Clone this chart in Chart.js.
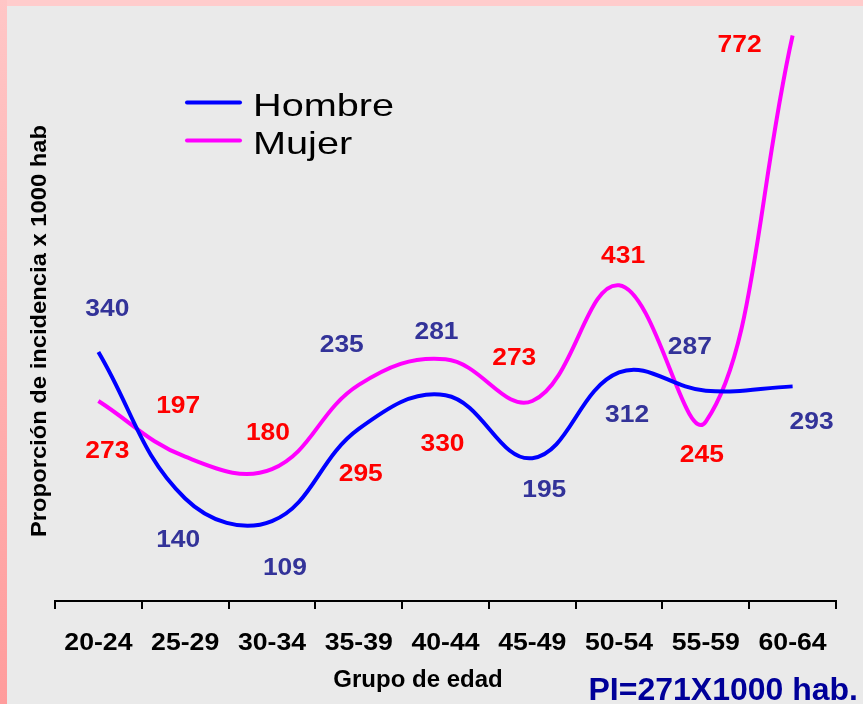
<!DOCTYPE html>
<html><head><meta charset="utf-8">
<script src="https://cdn.jsdelivr.net/npm/chart.js@4/dist/chart.umd.min.js"></script>
<style>html,body{margin:0;padding:0;background:#eaeaea;overflow:hidden}</style>
</head><body>
<canvas id="c" width="863" height="704"></canvas>
<script>
// ---- data ----
const categories = ['20-24','25-29','30-34','35-39','40-44','45-49','50-54','55-59','60-64'];
const hombre = [340, 140, 109, 235, 281, 195, 312, 287, 293];
const mujer  = [273, 197, 180, 295, 330, 273, 431, 245, 772];
const seriesNames = ['Hombre', 'Mujer'];
const xTitle = 'Grupo de edad';
const yTitle = 'Proporción de incidencia x 1000 hab';
const noteText = 'PI=271X1000 hab.';

// ---- label placement (pixel offsets from each point) ----
const hombreLabelOffsets = [[9,-45],[-7,40],[13,45],[-17,-85],[-9,-65],[12,30],[8,41],[-16,-45],[19,34]];
const mujerLabelOffsets  = [[9,48],[-7,-52],[-4,-38],[2,87],[-3,83],[-18,-45],[4,-31],[-4,32],[-53,8]];

const FONT = '"Liberation Sans", Arial, sans-serif';

function drawText(ctx, text, x, y, o) {
  ctx.save();
  ctx.translate(x, y);
  if (o.rotate) ctx.rotate(o.rotate);
  ctx.scale(o.sx || 1, 1);
  ctx.font = o.font;
  ctx.fillStyle = o.color;
  ctx.textAlign = o.align || 'center';
  ctx.textBaseline = o.baseline || 'alphabetic';
  ctx.fillText(text, 0, 0);
  ctx.restore();
}

const bgPlugin = {
  id: 'bg',
  beforeDraw(chart) {
    const ctx = chart.ctx, W = chart.width, H = chart.height;
    ctx.save();
    ctx.fillStyle = '#eaeaea';
    ctx.fillRect(0, 0, W, H);
    ctx.fillStyle = '#ffcccc';
    ctx.fillRect(0, 0, W, 6);
    const g = ctx.createLinearGradient(0, 0, 0, H);
    g.addColorStop(0, '#ffc6c6');
    g.addColorStop(1, '#ff9c9c');
    ctx.fillStyle = g;
    ctx.fillRect(0, 0, 7, H);
    ctx.restore();
  }
};

const textPlugin = {
  id: 'texts',
  afterDraw(chart) {
    const ctx = chart.ctx;
    const xs = chart.scales.x, ys = chart.scales.y;
    // tick labels
    categories.forEach((c, i) => {
      drawText(ctx, c, xs.getPixelForValue(i), xs.top + 49,
        {font: 'bold 24px ' + FONT, color: '#000', sx: 1.11});
    });
    // axis titles
    drawText(ctx, xTitle, 418, 687, {font: 'bold 24px ' + FONT, color: '#000', sx: 1.0});
    drawText(ctx, yTitle, 40, 331, {font: 'bold 22px ' + FONT, color: '#000', sx: 1.08,
      rotate: -Math.PI / 2, baseline: 'middle'});
    // note
    drawText(ctx, noteText, 858, 700, {font: 'bold 32px ' + FONT, color: '#000099', align: 'right'});
    // data labels
    const drawLabels = (vals, offs, color) => {
      vals.forEach((v, i) => {
        const px = xs.getPixelForValue(i), py = ys.getPixelForValue(v);
        drawText(ctx, String(v), px + offs[i][0], py + offs[i][1] + 8.6,
          {font: 'bold 24px ' + FONT, color: color, sx: 1.1});
      });
    };
    drawLabels(hombre, hombreLabelOffsets, '#333399');
    drawLabels(mujer, mujerLabelOffsets, '#ff0000');
    // legend
    const ds = chart.data.datasets;
    const legendRows = [102.5, 140.5];
    ds.forEach((d, i) => {
      ctx.save();
      ctx.strokeStyle = d.borderColor;
      ctx.lineWidth = 4;
      ctx.lineCap = 'round';
      ctx.beginPath();
      ctx.moveTo(187, legendRows[i]);
      ctx.lineTo(240, legendRows[i]);
      ctx.stroke();
      ctx.restore();
      drawText(ctx, d.label, 253, legendRows[i] + 13.5,
        {font: '32px ' + FONT, color: '#000', sx: 1.24, align: 'left'});
    });
  }
};

new Chart(document.getElementById('c'), {
  type: 'line',
  data: {
    labels: categories,
    datasets: [
      {label: seriesNames[0], data: hombre, borderColor: '#0000ff', borderWidth: 4,
       pointRadius: 0, tension: 0.4, fill: false},
      {label: seriesNames[1], data: mujer, borderColor: '#ff00ff', borderWidth: 4,
       pointRadius: 0, tension: 0.4, fill: false}
    ]
  },
  options: {
    responsive: false,
    animation: false,
    devicePixelRatio: 1,
    layout: {padding: {left: 55, right: 27, top: 15, bottom: 103}},
    plugins: {legend: {display: false}, tooltip: {enabled: false}},
    scales: {
      x: {
        type: 'category', offset: true,
        grid: {offset: true, drawOnChartArea: false, drawTicks: true, tickLength: 8, color: '#000', lineWidth: 2},
        border: {display: true, color: '#000', width: 2},
        ticks: {display: false},
        afterFit(s) { s.height = 0; }
      },
      y: {display: false, min: 0, max: 800}
    }
  },
  plugins: [bgPlugin, textPlugin]
});
</script>
</body></html>
